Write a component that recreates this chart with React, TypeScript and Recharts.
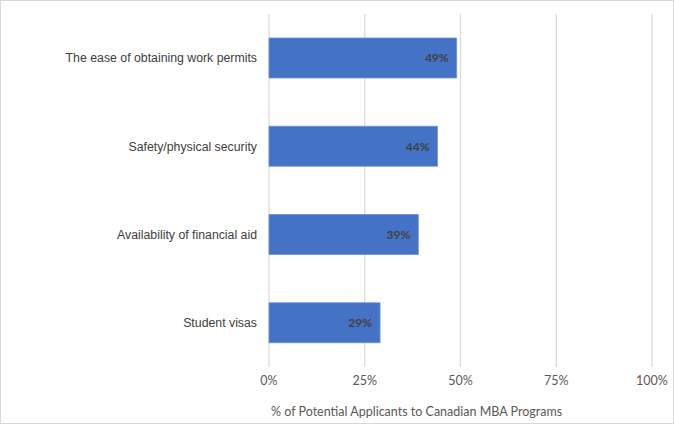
import React from "react";
import { BarChart, Bar, XAxis, YAxis, CartesianGrid, LabelList } from "recharts";

const categories = [
  "The ease of obtaining work permits",
  "Safety/physical security",
  "Availability of financial aid",
  "Student visas",
];
const values = [49, 44, 39, 29];
const xTicks = [0, 25, 50, 75, 100];
const axisTitle = "% of Potential Applicants to Canadian MBA Programs";

const data = categories.map((c, i) => ({ name: c, value: values[i] }));

const AxisTitle = (props: any) => {
  const { viewBox } = props;
  return (
    <text
      x={viewBox.x + 2}
      y={viewBox.y + viewBox.height + 19}
      fill="#595959"
      fontSize={12.5}
      fontFamily="Lato, 'Open Sans', sans-serif"
    >
      {axisTitle}
    </text>
  );
};

export default function App() {
  return (
    <div
      style={{
        position: "absolute",
        left: 0,
        top: 0,
        width: 674,
        height: 424,
        border: "1px solid #d9d9d9",
        boxSizing: "border-box",
        background: "#fff",
      }}
    >
      <BarChart
        width={672}
        height={422}
        data={data}
        layout="vertical"
        margin={{ top: 13, right: 21, left: 0, bottom: 26 }}
        barCategoryGap={24}
      >
        <CartesianGrid horizontal={false} stroke="#d9d9d9" strokeWidth={1.2} />
        <XAxis
          type="number"
          domain={[0, 100]}
          ticks={xTicks}
          tickFormatter={(v: number) => `${v}%`}
          axisLine={false}
          tickLine={false}
          tickSize={0}
          tickMargin={9}
          height={30}
          interval={0}
          tick={{ fill: "#595959", fontSize: 12.5, fontFamily: "Lato, 'Open Sans', sans-serif" }}
          label={<AxisTitle />}
        />
        <YAxis
          type="category"
          dataKey="name"
          width={268}
          axisLine={false}
          tickLine={false}
          tickSize={0}
          tickMargin={12}
          tick={{ fill: "#404040", fontSize: 12.3, fontFamily: "'Liberation Sans', Arial, sans-serif" }}
        />
        <Bar dataKey="value" fill="#4472C4" stroke="#6f93d4" strokeWidth={0.8} isAnimationActive={false}>
          <LabelList
            dataKey="value"
            position="insideRight"
            offset={8}
            formatter={(v: any) => `${v}%`}
            fill="#404040"
            fontSize={12}
            fontWeight="bold"
            fontFamily="Lato, 'Open Sans', sans-serif"
          />
        </Bar>
      </BarChart>
    </div>
  );
}
